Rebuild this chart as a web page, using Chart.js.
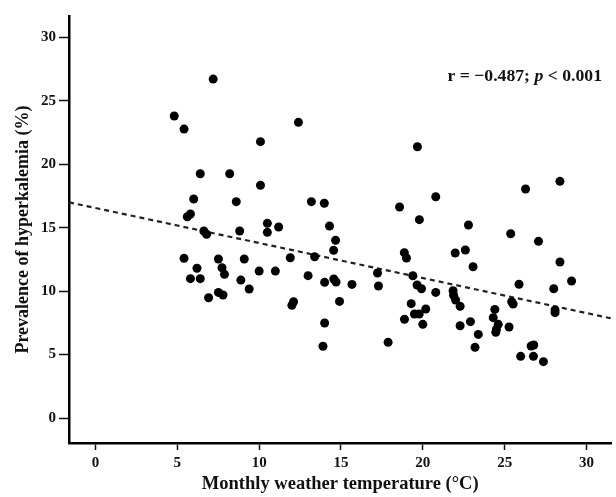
<!DOCTYPE html>
<html>
<head>
<meta charset="utf-8">
<script src="https://cdn.jsdelivr.net/npm/chart.js@4/dist/chart.umd.min.js"></script>
<style>
  html, body { margin: 0; padding: 0; background: #fff; }
  #wrap { width: 616px; height: 497px; }
</style>
</head>
<body>
<div id="wrap"><canvas id="chart" width="616" height="497"></canvas></div>
<script>
// monthly temperature (°C) vs prevalence of hyperkalemia (%)
const temperature = [
  7.19, 4.81, 5.41, 12.40, 10.08, 6.40, 8.20, 10.08, 6.00, 8.60,
  13.19, 13.98, 5.80, 5.61, 6.62, 6.79, 8.81, 10.50, 10.50, 11.19,
  14.30, 14.67, 14.55, 5.41, 7.51, 9.09, 11.90, 13.39, 6.20, 7.73,
  7.88, 5.80, 6.40, 10.00, 10.99, 8.88, 9.39, 7.51, 7.79, 6.91,
  12.99, 14.00, 14.56, 14.70, 12.10, 12.00, 14.91, 14.00, 13.90, 19.67,
  20.79, 18.58, 19.79, 26.28, 28.38, 22.79, 25.37, 27.07, 28.38, 18.87,
  19.00, 21.98, 22.60, 23.07, 29.09, 28.00, 25.88, 28.08, 28.08, 15.67,
  17.23, 17.29, 17.88, 19.39, 19.65, 19.92, 20.79, 19.29, 20.18, 19.49,
  19.78, 18.88, 20.00, 21.85, 21.88, 22.00, 22.28, 22.28, 22.91, 23.39,
  23.19, 24.40, 24.30, 24.61, 24.50, 24.46, 25.27, 25.43, 25.52, 25.98,
  26.62, 26.78, 26.76, 27.37
];
const prevalence = [
  26.71, 23.80, 22.77, 23.30, 21.78, 19.25, 19.25, 18.34, 17.26, 17.05,
  17.05, 16.92, 16.08, 15.86, 14.74, 14.48, 14.74, 15.34, 14.63, 15.05,
  15.13, 14.00, 13.21, 12.58, 12.53, 12.53, 12.63, 12.71, 11.80, 11.84,
  11.32, 10.98, 10.98, 11.58, 11.58, 10.87, 10.17, 9.90, 9.69, 9.48,
  11.22, 10.69, 10.95, 10.72, 9.16, 8.88, 9.19, 7.49, 5.65, 21.38,
  17.44, 16.63, 15.63, 18.05, 18.65, 15.21, 14.52, 13.92, 12.29, 13.03,
  12.61, 13.00, 13.24, 11.92, 10.80, 10.19, 10.54, 8.51, 8.30, 10.53,
  11.43, 10.40, 5.96, 11.21, 10.48, 10.19, 9.90, 9.01, 8.59, 8.20,
  8.20, 7.78, 7.38, 10.03, 9.67, 9.30, 8.80, 7.27, 7.59, 6.59,
  5.57, 8.56, 7.91, 7.38, 6.99, 6.75, 7.17, 9.16, 8.98, 4.86,
  5.67, 5.75, 4.86, 4.44
];
const xTicks = [0, 5, 10, 15, 20, 25, 30];
const yTicks = [0, 5, 10, 15, 20, 25, 30];

// fitted line, as drawn in the figure
const fitIntercept = 16.55;
const fitSlope = -0.276;

const xMin = -1.62, xMax = 31.53;
const yMin = -1.97, yMax = 31.68;

const serif = '"Liberation Serif", "Times New Roman", serif';

const points = temperature.map((t, i) => ({ x: t, y: prevalence[i] }));
const fitLine = [xMin, xMax].map(x => ({ x: x, y: fitIntercept + fitSlope * x }));

// r / p annotation in the top right corner
const statsLabel = {
    id: 'statsLabel',
    afterDraw: function(chart) {
        const ctx = chart.ctx;
        const parts = [
            { text: 'r = \u22120.487; ', font: 'bold 17.7px ' + serif },
            { text: 'p', font: 'italic bold 17.7px ' + serif },
            { text: ' < 0.001', font: 'bold 17.7px ' + serif }
        ];
        ctx.save();
        let total = 0;
        parts.forEach(p => { ctx.font = p.font; p.w = ctx.measureText(p.text).width; total += p.w; });
        let x = 602 - total;
        ctx.fillStyle = '#111';
        ctx.textBaseline = 'alphabetic';
        parts.forEach(p => {
            ctx.font = p.font;
            ctx.fillText(p.text, x, 81);
            x += p.w;
        });
        ctx.restore();
    }
};

new Chart(document.getElementById('chart'), {
    type: 'scatter',
    data: {
        datasets: [
            {
                data: points,
                backgroundColor: '#000',
                borderWidth: 0,
                pointRadius: 4.5,
                pointHoverRadius: 4.5
            },
            {
                type: 'line',
                data: fitLine,
                borderColor: '#222',
                borderWidth: 2.2,
                borderDash: [5, 4],
                pointRadius: 0,
                fill: false
            }
        ]
    },
    options: {
        responsive: false,
        animation: false,
        layout: { padding: { top: 16, right: 0, bottom: 0, left: 0 } },
        plugins: { legend: { display: false }, tooltip: { enabled: false } },
        scales: {
            x: {
                type: 'linear',
                min: xMin,
                max: xMax,
                afterBuildTicks: s => { s.ticks = xTicks.map(v => ({ value: v })); },
                afterFit: s => { s.height = 54; },
                grid: { drawOnChartArea: false, drawTicks: true, tickLength: 7, tickColor: '#111', tickWidth: 1.5 },
                border: { display: true, color: '#000', width: 2.5 },
                ticks: { color: '#111', padding: 4, font: { family: serif, size: 15, weight: 'bold' } },
                title: {
                    display: true,
                    text: 'Monthly weather temperature (\u00B0C)',
                    color: '#111',
                    padding: { top: 0, bottom: 2 },
                    font: { family: serif, size: 18.5, weight: 'bold' }
                }
            },
            y: {
                type: 'linear',
                min: yMin,
                max: yMax,
                afterBuildTicks: s => { s.ticks = yTicks.map(v => ({ value: v })); },
                afterFit: s => { s.width = 69; },
                grid: { drawOnChartArea: false, drawTicks: true, tickLength: 10, tickColor: '#111', tickWidth: 1.5 },
                border: { display: true, color: '#000', width: 2.5 },
                ticks: { color: '#111', padding: 3, font: { family: serif, size: 15, weight: 'bold' } },
                title: {
                    display: true,
                    text: 'Prevalence of hyperkalemia (%)',
                    color: '#111',
                    padding: { top: 13, bottom: 0 },
                    font: { family: serif, size: 18, weight: 'bold' }
                }
            }
        }
    },
    plugins: [statsLabel]
});
</script>
</body>
</html>
